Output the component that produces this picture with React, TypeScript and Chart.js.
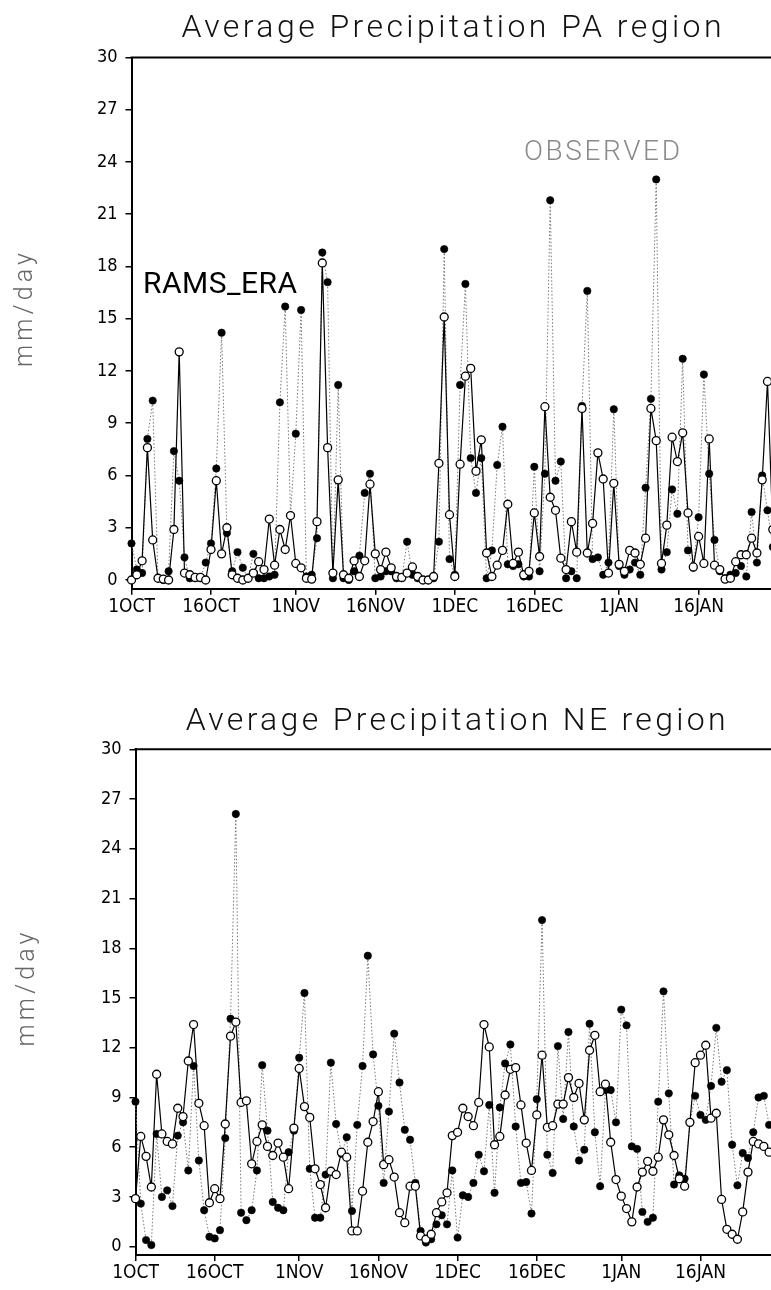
import React, { useEffect, useRef } from 'react';
import { Chart, registerables } from 'chart.js';

Chart.register(...registerables);

// ---- data ----
const xTickDays = [0, 15, 31, 46, 61, 76, 92, 107];
const xTickLabels = ['1OCT', '16OCT', '1NOV', '16NOV', '1DEC', '16DEC', '1JAN', '16JAN'];
const yTicks = [0, 3, 6, 9, 12, 15, 18, 21, 24, 27, 30];

const paObserved = [
  2.1, 0.6, 0.4, 8.1, 10.3, 0.1, 0.0, 0.5, 7.4, 5.7,
  1.3, 0.1, 0.1, 0.1, 1.0, 2.1, 6.4, 14.2, 2.7, 0.5,
  1.6, 0.7, 0.1, 1.5, 0.1, 0.1, 0.2, 0.3, 10.2, 15.7,
  3.7, 8.4, 15.5, 0.2, 0.3, 2.4, 18.8, 17.1, 0.1, 11.2,
  0.1, 0.0, 0.5, 1.4, 5.0, 6.1, 0.1, 0.2, 0.5, 0.5,
  0.1, 0.1, 2.2, 0.3, 0.1, 0.0, 0.0, 0.1, 2.2, 19.0,
  1.2, 0.3, 11.2, 17.0, 7.0, 5.0, 7.0, 0.1, 1.7, 6.6,
  8.8, 0.9, 0.8, 0.9, 0.2, 0.2, 6.5, 0.5, 6.1, 21.8,
  5.7, 6.8, 0.1, 0.5, 0.1, 10.0, 16.6, 1.2, 1.3, 0.3,
  1.0, 9.8, 0.8, 0.3, 0.6, 1.0, 0.3, 5.3, 10.4, 23.0,
  0.6, 1.6, 5.2, 3.8, 12.7, 1.7, 0.7, 3.6, 11.8, 6.1,
  2.3, 0.5, 0.1, 0.3, 0.4, 0.8, 0.2, 3.9, 1.0, 6.0,
  4.0, 1.9,
];

const paRams = [
  0.0, 0.3, 1.1, 7.6, 2.3, 0.1, 0.05, 0.0, 2.9, 13.1,
  0.4, 0.3, 0.15, 0.15, 0.0, 1.75, 5.7, 1.5, 3.0, 0.3,
  0.1, 0.0, 0.1, 0.4, 1.05, 0.6, 3.5, 0.85, 2.9, 1.75,
  3.7, 0.95, 0.7, 0.1, 0.05, 3.35, 18.2, 7.6, 0.4, 5.75,
  0.3, 0.1, 1.1, 0.2, 1.1, 5.5, 1.5, 0.6, 1.6, 0.7,
  0.2, 0.15, 0.4, 0.75, 0.2, 0.0, 0.0, 0.2, 6.7, 15.1,
  3.75, 0.2, 6.65, 11.7, 12.15, 6.25, 8.05, 1.55, 0.2, 0.85,
  1.7, 4.35, 0.95, 1.6, 0.3, 0.5, 3.85, 1.35, 9.95, 4.75,
  4.0, 1.25, 0.6, 3.35, 1.6, 9.85, 1.55, 3.25, 7.3, 5.8,
  0.4, 5.55, 0.9, 0.5, 1.7, 1.55, 0.9, 2.4, 9.85, 8.0,
  0.95, 3.15, 8.2, 6.8, 8.45, 3.85, 0.75, 2.5, 0.95, 8.1,
  0.85, 0.6, 0.05, 0.1, 1.05, 1.45, 1.45, 2.4, 1.55, 5.75,
  11.4, 2.9,
];

const neObserved = [
  8.75, 2.6, 0.4, 0.1, 6.8, 3.0, 3.4, 2.45, 6.7, 7.5,
  4.6, 10.9, 5.2, 2.2, 0.6, 0.5, 1.0, 6.55, 13.75, 26.1,
  2.05, 1.6, 2.2, 4.6, 10.95, 7.0, 2.7, 2.35, 2.2, 5.7,
  7.0, 11.4, 15.3, 4.7, 1.75, 1.75, 4.35, 11.1, 7.4, 5.6,
  6.6, 2.15, 7.35, 10.9, 17.55, 11.6, 8.5, 3.85, 8.15, 12.85,
  9.9, 7.05, 6.45, 3.85, 0.95, 0.25, 0.45, 1.35, 1.9, 1.35,
  4.6, 0.55, 3.1, 3.0, 3.85, 5.55, 4.55, 8.55, 3.25, 8.4,
  11.05, 12.2, 7.25, 3.85, 3.9, 2.0, 8.9, 19.7, 5.55, 4.45,
  12.1, 7.7, 12.95, 7.25, 5.2, 5.85, 13.45, 6.9, 3.65, 9.45,
  9.45, 7.5, 14.3, 13.35, 6.05, 5.9, 2.1, 1.5, 1.75, 8.75,
  15.4, 9.25, 3.75, 4.3, 4.1, 7.5, 9.1, 7.95, 7.65, 9.7,
  13.2, 9.95, 10.65, 6.15, 3.7, 5.65, 5.35, 6.9, 9.0, 9.1,
  7.35,
];

const neRams = [
  2.9, 6.65, 5.45, 3.6, 10.4, 6.8, 6.35, 6.2, 8.35, 7.85,
  11.2, 13.4, 8.65, 7.3, 2.65, 3.5, 2.9, 7.4, 12.7, 13.55,
  8.7, 8.8, 5.0, 6.35, 7.35, 6.05, 5.5, 6.25, 5.4, 3.5,
  7.15, 10.75, 8.45, 7.8, 4.7, 3.75, 2.35, 4.55, 4.35, 5.7,
  5.4, 0.95, 0.95, 3.35, 6.3, 7.55, 9.35, 4.95, 5.25, 4.2,
  2.05, 1.45, 3.65, 3.65, 0.65, 0.45, 0.75, 2.05, 2.7, 3.25,
  6.7, 6.9, 8.35, 7.85, 7.3, 8.7, 13.4, 12.05, 6.15, 6.65,
  9.15, 10.7, 10.8, 8.55, 6.25, 4.6, 7.95, 11.55, 7.2, 7.3,
  8.6, 8.6, 10.2, 9.0, 9.85, 7.65, 11.85, 12.75, 9.35, 9.8,
  6.3, 4.05, 3.05, 2.3, 1.5, 3.6, 4.5, 5.15, 4.55, 5.4,
  7.65, 6.75, 5.5, 4.1, 3.65, 7.5, 11.1, 11.55, 12.15, 7.75,
  8.05, 2.85, 1.05, 0.75, 0.45, 2.1, 4.5, 6.35, 6.2, 6.05,
  5.7,
];

// ---- layout / style ----
const CANVAS_W = 800;
const CANVAS_H = 640;
const TICK_FONT = "'DejaVu Sans Condensed', 'Liberation Sans Narrow', 'Liberation Sans', Arial, sans-serif";
const TEXT_FONT = "Roboto, 'DejaVu Sans', sans-serif";

type Label = { text: string; x: number; y: number; w: number; font: string; color: string };

type PanelCfg = {
  top: number;
  title: string;
  titleX: number;
  titleY: number;
  areaTop: number;
  areaBottom: number;
  areaLeft: number;
  areaRight: number;
  yLabelX: number;
  yLabelY: number;
  obs: number[];
  rams: number[];
  labels: Label[];
};

const panels: PanelCfg[] = [
  {
    top: 0,
    title: 'Average Precipitation PA region',
    titleX: 181.5,
    titleY: 36.5,
    areaTop: 57.5,
    areaBottom: 588.7,
    areaLeft: 131.5,
    areaRight: 131.5 + 122 * 5.3,
    yLabelX: 31.5,
    yLabelY: 310,
    obs: paObserved,
    rams: paRams,
    labels: [
      { text: 'RAMS_ERA', x: 143, y: 293, w: 154, font: `400 30px ${TEXT_FONT}`, color: '#000' },
      { text: 'OBSERVED', x: 524, y: 160, w: 156, font: `300 28px ${TEXT_FONT}`, color: '#8a8a8a' },
    ],
  },
  {
    top: 650,
    title: 'Average Precipitation NE region',
    titleX: 185.7,
    titleY: 80,
    areaTop: 99.3,
    areaBottom: 605,
    areaLeft: 135.5,
    areaRight: 135.5 + 122 * 5.28,
    yLabelX: 34,
    yLabelY: 339.5,
    obs: neObserved,
    rams: neRams,
    labels: [],
  },
];

function drawFitted(ctx: CanvasRenderingContext2D, text: string, x: number, y: number, w: number, font: string, color: string) {
  ctx.save();
  ctx.font = font;
  ctx.fillStyle = color;
  ctx.textAlign = 'left';
  ctx.textBaseline = 'alphabetic';
  (ctx as any).letterSpacing = '0px';
  const w0 = ctx.measureText(text).width;
  const ls = (w - w0) / Math.max(1, text.length - 1);
  (ctx as any).letterSpacing = `${ls}px`;
  ctx.fillText(text, x, y);
  ctx.restore();
}

function makeChart(canvas: HTMLCanvasElement, cfg: PanelCfg) {
  const toPts = (arr: number[]) => arr.map((v, i) => ({ x: i, y: v }));
  const textPlugin = {
    id: 'panelText' + cfg.top,
    afterDraw(chart: any) {
      const ctx: CanvasRenderingContext2D = chart.ctx;
      const a = chart.chartArea;
      // top and right frame lines
      ctx.save();
      ctx.strokeStyle = '#000';
      ctx.lineWidth = 2;
      ctx.beginPath();
      ctx.moveTo(a.left - 1, a.top);
      ctx.lineTo(a.right, a.top);
      ctx.lineTo(a.right, a.bottom);
      ctx.stroke();
      ctx.restore();
      // title
      drawFitted(ctx, cfg.title, cfg.titleX, cfg.titleY, 540, `300 32px ${TEXT_FONT}`, '#111');
      // y axis title
      ctx.save();
      ctx.translate(cfg.yLabelX, cfg.yLabelY);
      ctx.rotate(-Math.PI / 2);
      drawFitted(ctx, 'mm/day', -57, 0, 114, `300 25px ${TEXT_FONT}`, '#666');
      ctx.restore();
      for (const l of cfg.labels) drawFitted(ctx, l.text, l.x, l.y, l.w, l.font, l.color);
    },
  };

  return new Chart(canvas, {
    type: 'line',
    data: {
      datasets: [
        {
          label: 'RAMS_ERA',
          data: toPts(cfg.rams),
          borderColor: '#000',
          borderWidth: 1.2,
          pointRadius: 4,
          pointBackgroundColor: '#fff',
          pointBorderColor: '#000',
          pointBorderWidth: 1.3,
          fill: false,
          tension: 0,
          clip: false,
        },
        {
          label: 'OBSERVED',
          data: toPts(cfg.obs),
          borderColor: '#777',
          borderWidth: 1,
          borderDash: [1.5, 2],
          pointRadius: 3.7,
          pointBackgroundColor: '#000',
          pointBorderColor: '#000',
          pointBorderWidth: 0.6,
          fill: false,
          tension: 0,
          clip: false,
        },
      ],
    },
    options: {
      animation: false,
      responsive: false,
      devicePixelRatio: 1,
      layout: {
        padding: { top: cfg.areaTop, left: 0, right: CANVAS_W - cfg.areaRight, bottom: 0 },
      },
      plugins: {
        legend: { display: false },
        tooltip: { enabled: false },
        title: { display: false },
      },
      scales: {
        x: {
          type: 'linear',
          min: 0,
          max: 122,
          afterFit: (s: any) => {
            s.height = CANVAS_H - cfg.areaBottom;
          },
          afterBuildTicks: (s: any) => {
            s.ticks = xTickDays.map((v) => ({ value: v }));
          },
          ticks: {
            autoSkip: false,
            maxRotation: 0,
            minRotation: 0,
            padding: 1,
            color: '#000',
            font: { family: TICK_FONT, size: 19 },
            callback: (_v: any, i: number) => xTickLabels[i],
          },
          grid: {
            display: true,
            drawOnChartArea: false,
            drawTicks: true,
            tickLength: 6,
            color: '#000',
            lineWidth: 1.5,
          },
          border: { display: true, color: '#000', width: 2 },
        },
        y: {
          type: 'linear',
          min: -0.5,
          max: 30,
          afterFit: (s: any) => {
            s.width = cfg.areaLeft;
          },
          afterBuildTicks: (s: any) => {
            s.ticks = yTicks.map((v) => ({ value: v }));
          },
          ticks: {
            padding: 8,
            color: '#000',
            font: { family: TICK_FONT, size: 18 },
            callback: (v: any) => String(v),
          },
          grid: {
            display: true,
            drawOnChartArea: false,
            drawTicks: true,
            tickLength: 6,
            color: '#000',
            lineWidth: 1.5,
          },
          border: { display: true, color: '#000', width: 2 },
        },
      },
    },
    plugins: [textPlugin],
  } as any);
}

function Panel({ cfg }: { cfg: PanelCfg }) {
  const ref = useRef<HTMLCanvasElement | null>(null);
  useEffect(() => {
    if (!ref.current) return;
    const chart = makeChart(ref.current, cfg);
    return () => chart.destroy();
  }, [cfg]);
  return (
    <canvas
      ref={ref}
      width={CANVAS_W}
      height={CANVAS_H}
      style={{ position: 'absolute', left: 0, top: cfg.top, width: CANVAS_W, height: CANVAS_H }}
    />
  );
}

export default function App() {
  return (
    <div
      style={{
        position: 'absolute',
        left: 0,
        top: 0,
        width: 771,
        height: 1290,
        overflow: 'hidden',
        background: '#fff',
      }}
    >
      {panels.map((p) => (
        <Panel key={p.top} cfg={p} />
      ))}
    </div>
  );
}
